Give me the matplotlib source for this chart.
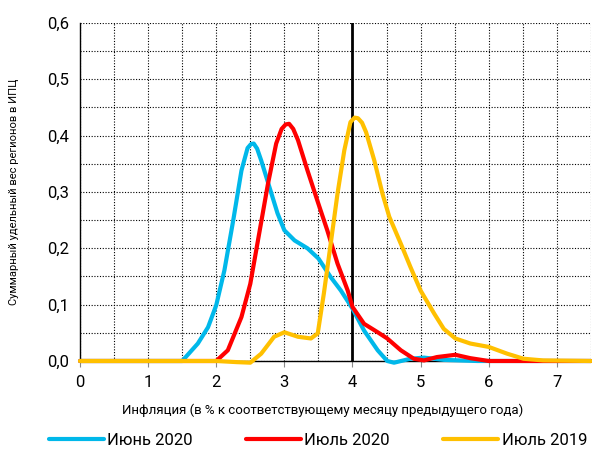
import matplotlib
matplotlib.use("Agg")
import matplotlib.pyplot as plt
from matplotlib.ticker import MultipleLocator, FuncFormatter

plt.rcParams['font.family'] = ['Roboto', 'DejaVu Sans']

# Values
june2020_x = [0, 1.0, 1.5, 1.73, 1.88, 2.0, 2.12, 2.25, 2.37, 2.46, 2.51, 2.55, 2.6, 2.66, 2.78, 2.9, 3.0,
              3.15, 3.34, 3.5, 3.68, 3.83, 4.0, 4.17, 4.37, 4.51, 4.61, 4.85, 5.05, 5.34, 5.83, 7.5]
june2020_y = [0, 0, 0, 0.031, 0.06, 0.099, 0.161, 0.25, 0.338, 0.378, 0.385, 0.386, 0.377, 0.356, 0.309,
              0.262, 0.232, 0.214, 0.2, 0.182, 0.149, 0.125, 0.093, 0.054, 0.019, 0.0, -0.003, 0.004,
              0.006, 0.002, 0, 0]

july2020_x = [0, 1.0, 2.0, 2.17, 2.37, 2.5, 2.63, 2.76, 2.88, 2.96, 3.02, 3.07, 3.13, 3.2, 3.34, 3.5, 3.63,
              3.78, 3.93, 4.0, 4.17, 4.37, 4.51, 4.71, 4.9, 5.05, 5.24, 5.51, 5.73, 6.0, 7.5]
july2020_y = [0, 0, 0, 0.019, 0.078, 0.137, 0.226, 0.315, 0.386, 0.412, 0.42, 0.421, 0.412, 0.392, 0.338,
              0.279, 0.232, 0.173, 0.125, 0.096, 0.066, 0.051, 0.04, 0.019, 0.004, 0.001, 0.007, 0.011,
              0.005, 0, 0]

july2019_x = [0, 1.0, 2.0, 2.3, 2.5, 2.66, 2.85, 3.0, 3.2, 3.39, 3.49, 3.58, 3.68, 3.78, 3.88,
              3.97, 4.03, 4.08, 4.14, 4.2, 4.32, 4.44, 4.54, 4.71, 4.85, 5.0, 5.2, 5.34, 5.51, 5.73, 6.0,
              6.27, 6.51, 6.8, 7.5]
july2019_y = [0, 0, 0, -0.002, -0.003, 0.013, 0.043, 0.051, 0.043, 0.04, 0.049, 0.12, 0.208, 0.297, 0.374,
              0.424, 0.432, 0.431, 0.423, 0.406, 0.356, 0.297, 0.256, 0.208, 0.167, 0.125, 0.084, 0.057,
              0.04, 0.031, 0.025, 0.013, 0.004, 0.001, 0]

threshold = 4

fig = plt.figure(figsize=(5.92, 4.58), dpi=100)
ax = fig.add_axes([0.1351, 0.2118, 0.8631, 0.738])

line_kw = dict(lw=3.0, solid_joinstyle='round', solid_capstyle='round', clip_on=False)
ax.plot(june2020_x, june2020_y, color='#00B8EA', label='Июнь 2020', zorder=8, **line_kw)
ax.plot(july2020_x, july2020_y, color='#FF0000', label='Июль 2020', zorder=9, **line_kw)
ax.plot(july2019_x, july2019_y, color='#FFC000', label='Июль 2019', zorder=10, **line_kw)
ax.axvline(threshold, color='black', lw=2.0, zorder=6)

ax.set_xlim(0, 7.5)
ax.set_ylim(0, 0.6)
ax.xaxis.set_major_locator(MultipleLocator(1))
ax.xaxis.set_minor_locator(MultipleLocator(0.5))
ax.yaxis.set_major_locator(MultipleLocator(0.1))
ax.yaxis.set_minor_locator(MultipleLocator(0.05))
ax.yaxis.set_major_formatter(FuncFormatter(lambda v, p: f"{v:.1f}".replace('.', ',')))

ax.grid(True, which='both', color='black', linestyle=(0, (1, 1.5)), lw=0.8)
ax.set_axisbelow(True)

for s in ['top', 'right']:
    ax.spines[s].set_visible(False)
ax.spines['left'].set_color('black')
ax.spines['bottom'].set_color('black')
ax.spines['left'].set_linewidth(1.0)
ax.spines['bottom'].set_linewidth(1.0)
ax.spines['bottom'].set_zorder(7)

ax.tick_params(axis='x', which='major', direction='out', length=4, color='#888888',
               labelsize=12, pad=6)
ax.tick_params(axis='x', which='minor', length=0)
ax.tick_params(axis='y', which='both', length=0, labelsize=12, pad=8)

ax.set_xlabel('Инфляция (в % к соответствующему месяцу предыдущего года)', fontsize=9.5)
ax.xaxis.set_label_coords(0.474, -0.125)
ax.set_ylabel('Суммарный удельный вес регионов в ИПЦ', fontsize=8, labelpad=20)

fig.legend(loc='center', bbox_to_anchor=(0.537, 0.038), ncol=3, frameon=False, fontsize=12,
           handlelength=3.3, handletextpad=0.2, columnspacing=3.2)

fig.savefig('out.png', dpi=100)
